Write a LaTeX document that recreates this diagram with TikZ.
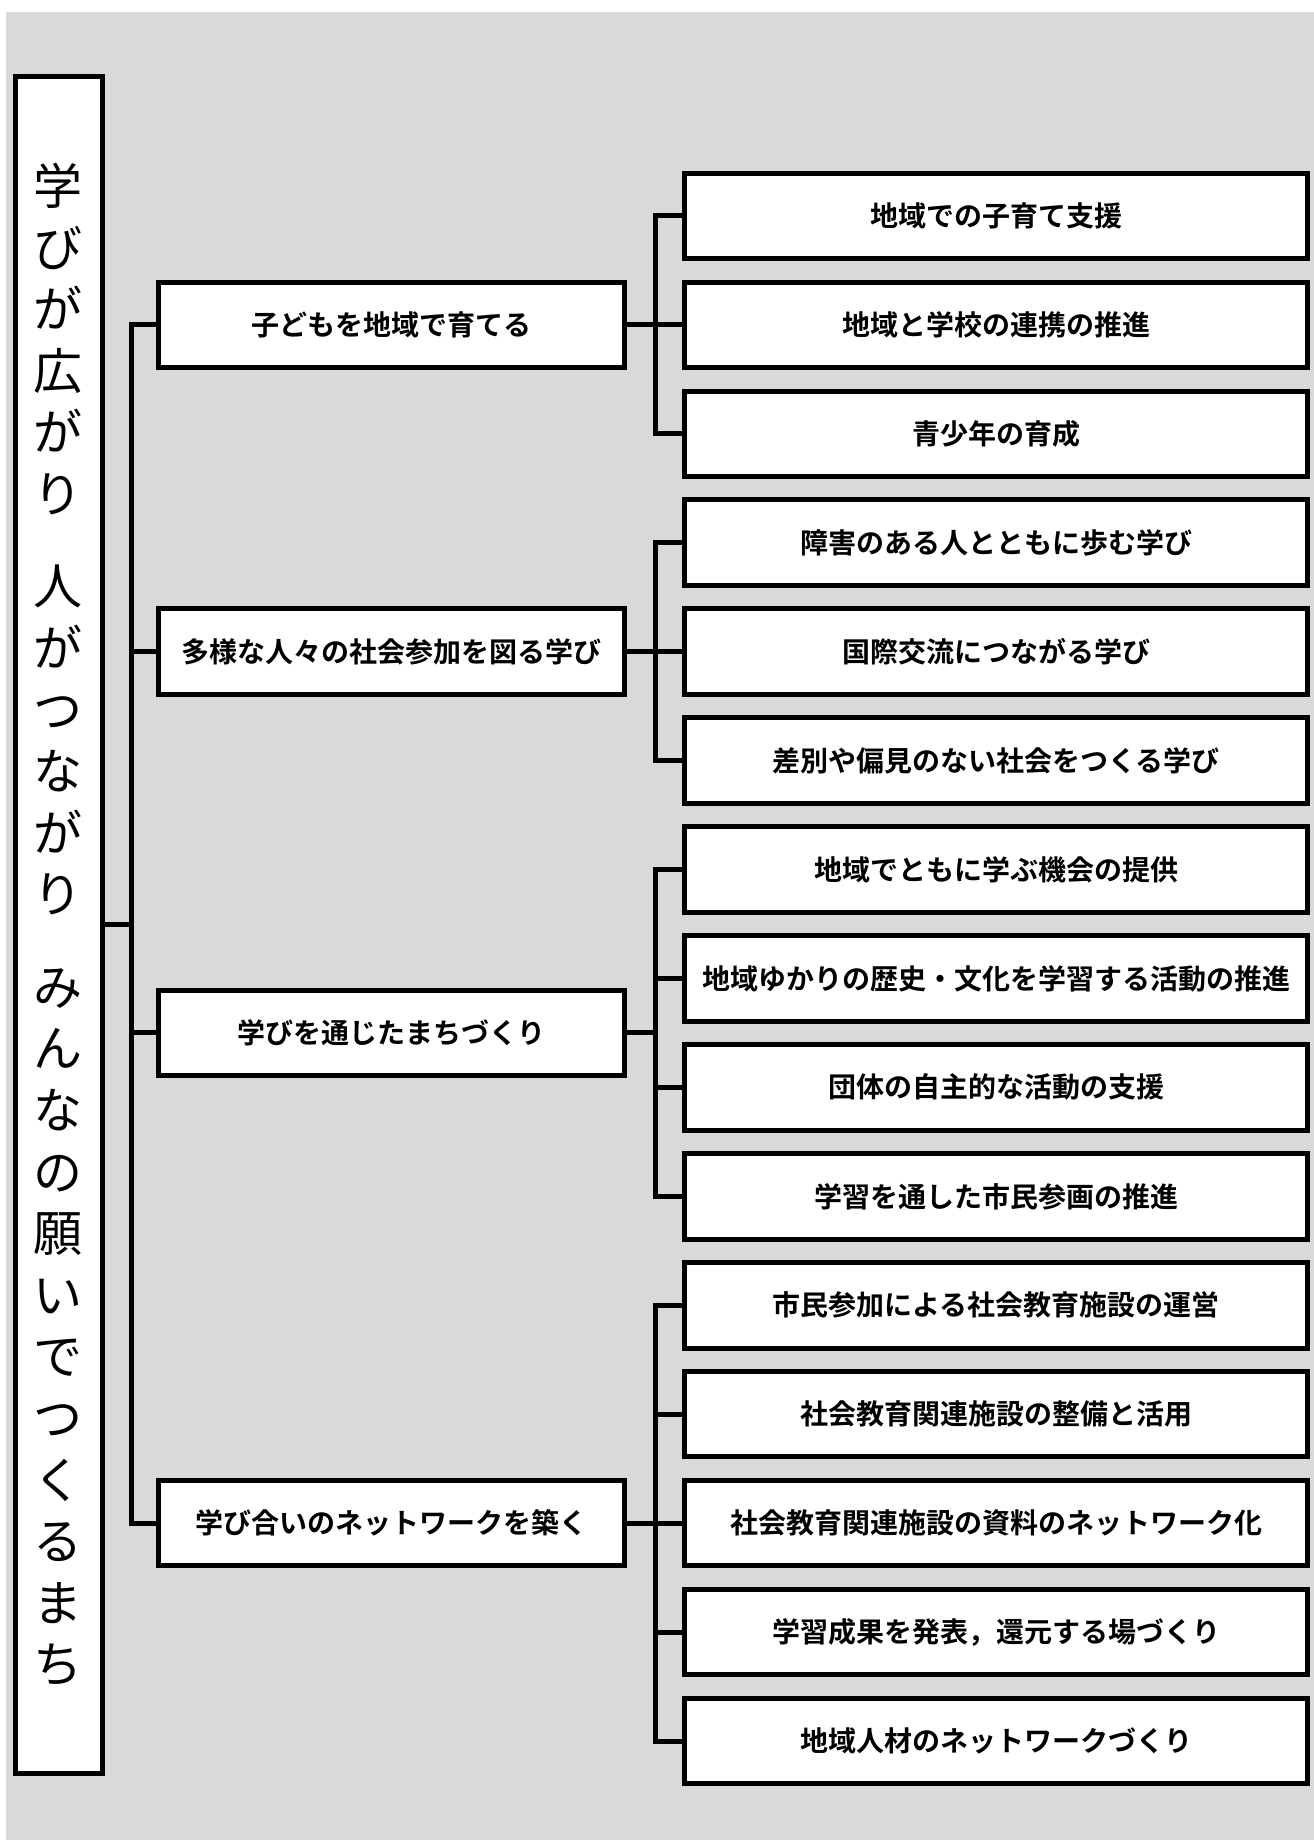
\documentclass[tikz,border=0pt]{standalone}
\usepackage{fontspec}
\newfontfamily\jpfont{Noto Sans CJK JP}[BoldFont={Noto Sans CJK JP Bold}]
\definecolor{bggray}{HTML}{D9D9D9}

\begin{document}
\begin{tikzpicture}[x=1pt, y=-1pt, line width=5pt,
    mainbox/.style={draw, fill=white, inner sep=0pt, minimum width=87pt,
        minimum height=1697pt, align=center,
        font=\jpfont\fontsize{49}{61.6}\selectfont},
    topicbox/.style={draw, fill=white, inner sep=0pt, minimum width=465.5pt,
        minimum height=85.5pt, font=\jpfont\bfseries\fontsize{28}{34}\selectfont},
    itembox/.style={topicbox, minimum width=623pt}]
    \useasboundingbox (0,0) rectangle (1314,1840);
    \fill[bggray] (6,12) rectangle (1314,1840);

    % title
    \node[mainbox] (main) at (58.5, 924.5) {学\\び\\が\\広\\が\\り\\[30.8pt]人\\が\\つ\\な\\が\\り\\[30.8pt]み\\ん\\な\\の\\願\\い\\で\\つ\\く\\る\\ま\\ち};

    % first level
    \node[topicbox] (b1) at (391.5, 324.8) {子どもを地域で育てる};
    \node[topicbox] (b2) at (391.5, 651.7) {多様な人々の社会参加を図る学び};
    \node[topicbox] (b3) at (391.5, 1032.9) {学びを通じたまちづくり};
    \node[topicbox] (b4) at (391.5, 1523.2) {学び合いのネットワークを築く};

    % second level
    \node[itembox] (b11) at (996, 215.9) {地域での子育て支援};
    \node[itembox] (b12) at (996, 324.8) {地域と学校の連携の推進};
    \node[itembox] (b13) at (996, 433.8) {青少年の育成};

    \node[itembox] (b21) at (996, 542.7) {障害のある人とともに歩む学び};
    \node[itembox] (b22) at (996, 651.7) {国際交流につながる学び};
    \node[itembox] (b23) at (996, 760.6) {差別や偏見のない社会をつくる学び};

    \node[itembox] (b31) at (996, 869.5) {地域でともに学ぶ機会の提供};
    \node[itembox] (b32) at (996, 978.5) {地域ゆかりの歴史・文化を学習する活動の推進};
    \node[itembox] (b33) at (996, 1087.4) {団体の自主的な活動の支援};
    \node[itembox] (b34) at (996, 1196.4) {学習を通した市民参画の推進};

    \node[itembox] (b41) at (996, 1305.3) {市民参加による社会教育施設の運営};
    \node[itembox] (b42) at (996, 1414.2) {社会教育関連施設の整備と活用};
    \node[itembox] (b43) at (996, 1523.2) {社会教育関連施設の資料のネットワーク化};
    \node[itembox] (b44) at (996, 1632.1) {学習成果を発表，還元する場づくり};
    \node[itembox] (b45) at (996, 1741.1) {地域人材のネットワークづくり};

    % joints
    \coordinate (j0) at (131, 924.5);
    \coordinate (j1) at (655, 324.8);
    \coordinate (j2) at (655, 651.7);
    \coordinate (j3) at (655, 1032.9);
    \coordinate (j4) at (655, 1523.2);

    \draw (main.east) -- (j0);
    \foreach \t in {1,2,3,4}
        \draw (b\t.west) -| (j0);

    \draw (b1.east) -- (j1);
    \draw (b2.east) -- (j2);
    \draw (b3.east) -- (j3);
    \draw (b4.east) -- (j4);

    \foreach \i in {1,2,3}
        \draw (b1\i.west) -| (j1);
    \foreach \i in {1,2,3}
        \draw (b2\i.west) -| (j2);
    \foreach \i in {1,2,3,4}
        \draw (b3\i.west) -| (j3);
    \foreach \i in {1,2,3,4,5}
        \draw (b4\i.west) -| (j4);
\end{tikzpicture}
\end{document}
